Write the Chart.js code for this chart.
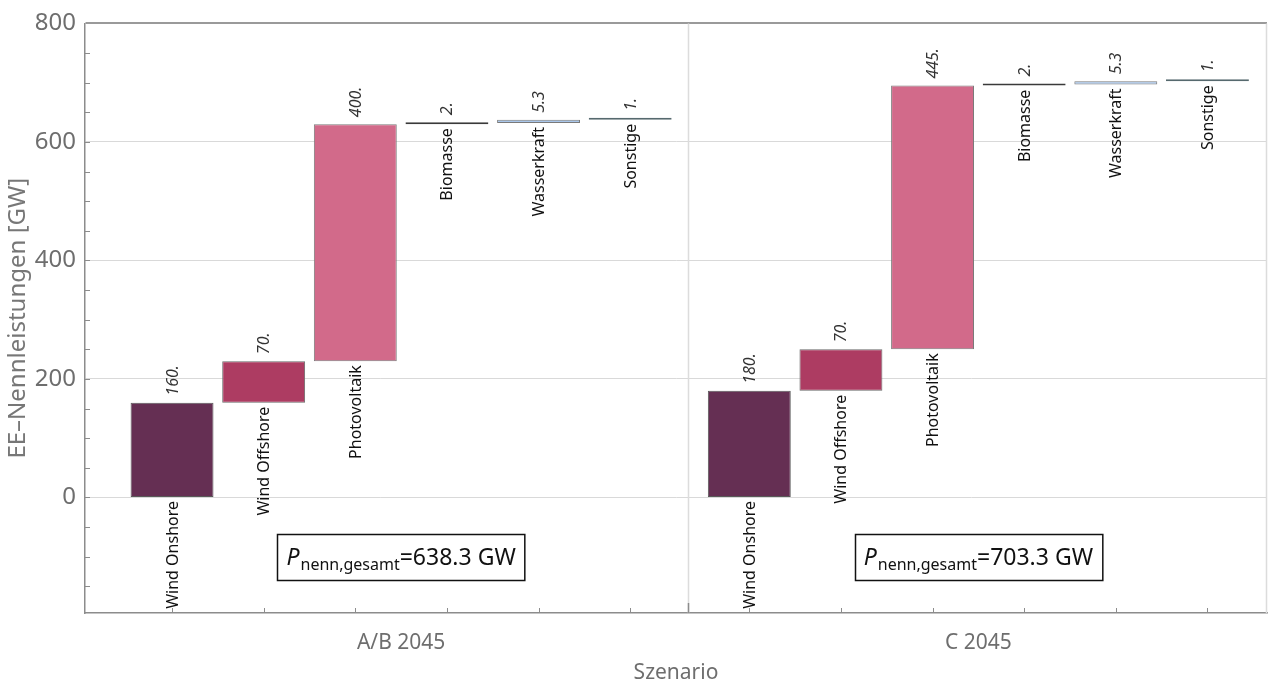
<!DOCTYPE html>
<html lang="de">
<head>
  <meta charset="UTF-8">
  <title>EE-Nennleistungen 2045</title>
  <script src="https://cdn.jsdelivr.net/npm/chart.js"></script>
  <style>
    body { margin: 0; background: #fff; }
    .chart-box { position: relative; width: 1270px; height: 684px; }
  </style>
</head>
<body>
  <div class="chart-box">
    <canvas id="eeChart"></canvas>
  </div>

  <script>
    // --- data ---
    const groupLabels = ['A/B 2045', 'C 2045'];
    const techLabels = ['Wind Onshore', 'Wind Offshore', 'Photovoltaik', 'Biomasse', 'Wasserkraft', 'Sonstige'];
    const valuesAB = [160, 70, 400, 2, 5.3, 1];
    const valuesC = [180, 70, 445, 2, 5.3, 1];
    const yTickValues = [0, 200, 400, 600, 800];

    // --- layout / style ---
    const groupStart = [0.95, 7.25];   // x position of first bar in each group
    const groupEdges = [6.59, 12.9];   // light vertical separators
    const xMax = 12.9;
    const yMin = -195, yMax = 800;
    const boxLevel = -100;             // vertical anchor of the total boxes
    const techColors = ['#652f53', '#ad3c62', '#d26a8a', '#3c3c3c', '#a9c6ea', '#56696e'];
    const techBorders = ['#5a5a5a', '#6a6a6a', '#7a7a7a', '#3a3a3a', '#7a7a7a', '#56696e'];
    const gray = '#6e6e6e';

    const groups = [valuesAB, valuesC];
    const bars = [];
    groups.forEach((vals, g) => {
      let run = 0;
      vals.forEach((v, i) => {
        bars.push({ x: groupStart[g] + i, y: [run, run + v], tech: i, value: v });
        run += v;
      });
    });
    const totals = groups.map(vals => vals.reduce((a, b) => a + b, 0));
    const groupCenters = groupStart.map(s => s + (techLabels.length - 1) / 2);

    function fmt(v) {
      return Number.isInteger(v) ? v + '.' : String(v);
    }

    const decor = {
      id: 'decor',
      beforeDatasetsDraw(chart) {
        const { ctx, chartArea, scales: { x, y } } = chart;
        ctx.save();
        // separators
        ctx.strokeStyle = '#dcdcdc';
        ctx.lineWidth = 1.5;
        groupEdges.forEach(e => {
          const px = Math.round(x.getPixelForValue(e)) - 0.5;
          ctx.beginPath();
          ctx.moveTo(px, chartArea.top);
          ctx.lineTo(px, chartArea.bottom);
          ctx.stroke();
        });
        // darker tick at the group separator
        ctx.strokeStyle = '#8c8c8c';
        const sep = Math.round(x.getPixelForValue(groupEdges[0])) - 0.5;
        ctx.beginPath();
        ctx.moveTo(sep, chartArea.bottom - 10);
        ctx.lineTo(sep, chartArea.bottom);
        ctx.stroke();
        // inward ticks on the bottom axis at bar centers
        ctx.lineWidth = 1;
        bars.forEach(b => {
          const px = Math.round(x.getPixelForValue(b.x)) + 0.5;
          ctx.beginPath();
          ctx.moveTo(px, chartArea.bottom - 5);
          ctx.lineTo(px, chartArea.bottom);
          ctx.stroke();
        });
        // inward minor ticks on the left axis
        for (let v = -150; v < yMax; v += 50) {
          const py = Math.round(y.getPixelForValue(v)) + 0.5;
          ctx.beginPath();
          ctx.moveTo(chartArea.left, py);
          ctx.lineTo(chartArea.left + 5, py);
          ctx.stroke();
        }
        ctx.restore();
      },
      afterDatasetsDraw(chart) {
        const { ctx, scales: { x, y } } = chart;
        const meta = chart.getDatasetMeta(0);
        ctx.save();
        meta.data.forEach((el, i) => {
          const b = bars[i];
          const top = Math.min(el.y, el.base);
          const bottom = Math.max(el.y, el.base);
          // value label, rotated, italic, above the bar
          ctx.save();
          ctx.translate(el.x + 1, top - 7);
          ctx.rotate(-Math.PI / 2);
          ctx.font = 'italic 16px "Noto Sans"';
          ctx.fillStyle = '#333';
          ctx.textAlign = 'left';
          ctx.textBaseline = 'middle';
          ctx.fillText(fmt(b.value), 0, 0);
          ctx.restore();
          // category label, rotated, below the bar
          ctx.save();
          ctx.translate(el.x + 1, bottom + 4);
          ctx.rotate(-Math.PI / 2);
          ctx.font = '16px "Noto Sans"';
          ctx.fillStyle = '#111';
          ctx.textAlign = 'right';
          ctx.textBaseline = 'middle';
          ctx.fillText(techLabels[b.tech], 0, 0);
          ctx.restore();
        });
        // total boxes
        groupCenters.forEach((c, g) => {
          const cx = x.getPixelForValue(c);
          const cy = y.getPixelForValue(boxLevel);
          const big = '23px "Noto Sans"';
          const bigIt = 'italic 23px "Noto Sans"';
          const small = '16px "Noto Sans"';
          const rest = '=' + totals[g].toFixed(1) + ' GW';
          ctx.font = bigIt; const wP = ctx.measureText('P').width + 1;
          ctx.font = small; const wS = ctx.measureText('nenn,gesamt').width;
          ctx.font = big; const wR = ctx.measureText(rest).width;
          const total = wP + wS + wR;
          const bw = total + 18, bh = 46;
          const bx = Math.round(cx - bw / 2) + 0.5, by = Math.round(cy - bh / 2) + 0.5;
          ctx.fillStyle = '#fff';
          ctx.fillRect(bx, by, bw, bh);
          ctx.strokeStyle = '#111';
          ctx.lineWidth = 1.5;
          ctx.strokeRect(bx, by, bw, bh);
          ctx.fillStyle = '#111';
          ctx.textBaseline = 'alphabetic';
          ctx.textAlign = 'left';
          let tx = cx - total / 2;
          const base = cy + 8;
          ctx.font = bigIt; ctx.fillText('P', tx, base); tx += wP;
          ctx.font = small; ctx.fillText('nenn,gesamt', tx, base + 5); tx += wS;
          ctx.font = big; ctx.fillText(rest, tx, base);
        });
        ctx.restore();
      }
    };

    new Chart(document.getElementById('eeChart'), {
      type: 'bar',
      data: {
        datasets: [{
          data: bars.map(b => ({ x: b.x, y: b.y })),
          backgroundColor: ctx => techColors[ctx.dataIndex % techLabels.length],
          borderColor: ctx => techBorders[ctx.dataIndex % techLabels.length],
          borderWidth: 1,
          borderSkipped: false,
          minBarLength: 2,
          barPercentage: 0.905,
          categoryPercentage: 1
        }]
      },
      options: {
        responsive: true,
        maintainAspectRatio: false,
        animation: false,
        layout: { padding: { top: 19, right: 3, left: 0, bottom: 0 } },
        plugins: {
          legend: { display: false },
          tooltip: { enabled: false }
        },
        scales: {
          x: {
            type: 'linear',
            min: 0,
            max: xMax,
            offset: false,
            afterFit: s => { s.height = 71; },
            afterBuildTicks: s => { s.ticks = groupCenters.map(v => ({ value: v })); },
            grid: { display: false, offset: false },
            border: { display: true, color: '#8c8c8c', width: 1.5 },
            ticks: {
              callback: (v, i) => groupLabels[i],
              color: gray,
              padding: 9,
              maxRotation: 0,
              font: { family: '"Noto Sans", sans-serif', size: 21 }
            },
            title: {
              display: true,
              text: 'Szenario',
              color: gray,
              padding: { top: 0, bottom: 0 },
              font: { family: '"Noto Sans", sans-serif', size: 21, lineHeight: 1 }
            }
          },
          y: {
            min: yMin,
            max: yMax,
            afterFit: s => { s.width = 85; },
            afterBuildTicks: s => { s.ticks = yTickValues.map(v => ({ value: v })); },
            grid: {
              drawTicks: false,
              color: c => c.tick && c.tick.value === yMax ? '#9a9a9a' : '#d9d9d9',
              lineWidth: c => c.tick && c.tick.value === yMax ? 2 : 1
            },
            border: { display: true, color: '#8c8c8c', width: 1.5 },
            ticks: {
              color: gray,
              padding: 9,
              font: { family: '"Noto Sans", sans-serif', size: 24 }
            },
            title: {
              display: true,
              text: 'EE–Nennleistungen [GW]',
              color: '#777',
              padding: { top: 4, bottom: 0 },
              font: { family: '"Noto Sans", sans-serif', size: 24 }
            }
          }
        }
      },
      plugins: [decor]
    });
  </script>
</body>
</html>
